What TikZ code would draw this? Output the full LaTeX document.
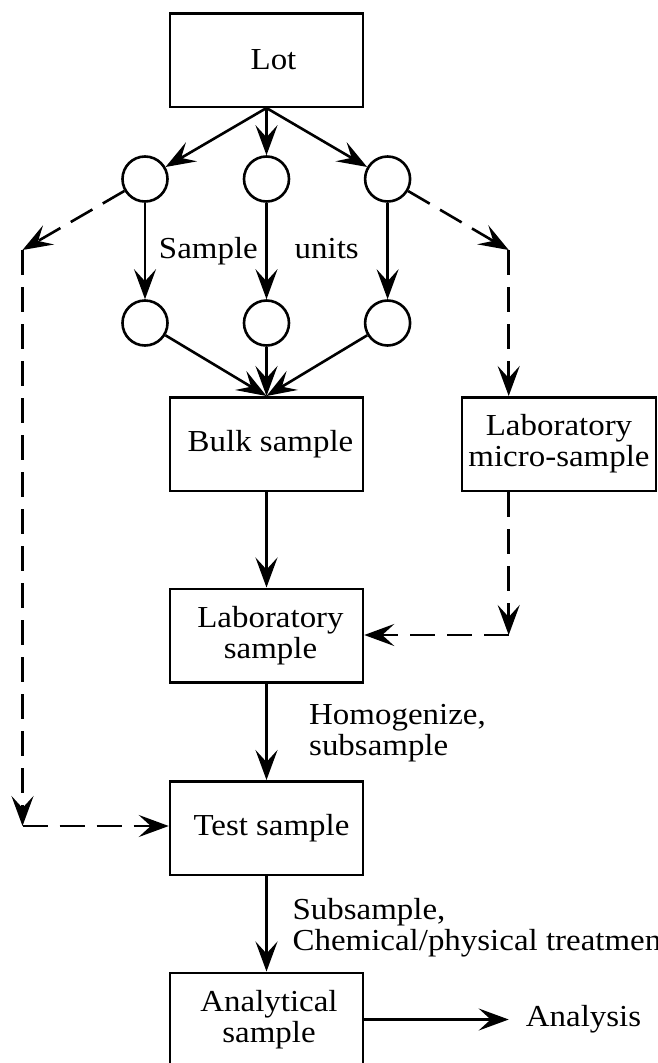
\documentclass[tikz,border=0pt]{standalone}
\usepackage{fontspec}
\setmainfont{Liberation Serif}[FakeStretch=1.08]
\usetikzlibrary{arrows.meta}
\tikzset{
  >={Stealth[length=30pt,width=22pt,inset=12pt]},
  box/.style={draw,line width=2.5pt,minimum width=193pt,minimum height=93.5pt,inner sep=0pt,align=center},
  unit/.style={draw,circle,line width=2.6pt,minimum size=45pt,inner sep=0pt},
  lbl/.style={inner sep=0pt,align=left},
  arr/.style={line width=2.6pt,->},
  dsh/.style={line width=2.6pt,->,dash pattern=on 25pt off 12pt}
}
\begin{document}
\begin{tikzpicture}[x=1pt,y=-1pt,
  every node/.style={font=\fontsize{30.5}{31}\selectfont}]
\useasboundingbox (0,0) rectangle (658,1063);
% boxes
\node[box] (lot) at (266.5,60) {\hspace*{14pt}Lot};
\node[unit] (c1) at (145,179) {};
\node[unit] (c2) at (266.5,179) {};
\node[unit] (c3) at (387.6,179) {};
\node[unit] (d1) at (145,323) {};
\node[unit] (d2) at (266.5,323) {};
\node[unit] (d3) at (387.6,323) {};
\node[box] (bulk) at (266.5,444) {\hspace*{8pt}Bulk sample};
\node[box,minimum width=194pt] (micro) at (559,444) {Laboratory\\micro-sample};
\node[box] (lab) at (266.5,635.5) {\hspace*{8pt}Laboratory\\\hspace*{8pt}sample};
\node[box] (test) at (266.5,828) {\hspace*{10pt}Test sample};
\node[box] (ana) at (266.5,1019.5) {\hspace*{5pt}Analytical\\\hspace*{5pt}sample};
\node[lbl,anchor=west] (res) at (525.7,1019.5) {Analysis};
% labels
\node[lbl,anchor=base east] (lsample) at (258,258) {Sample};
\node[lbl,anchor=base west] (lunits) at (294.5,258) {units};
\node[lbl,anchor=base west] (lhom) at (309,755) {Homogenize,\\subsample};
\node[lbl,anchor=base west] (lsub) at (292.4,950) {Subsample,\\Chemical/physical treatment};
% coordinates
\coordinate (L1) at (22.5,250);
\coordinate (L2) at (22.5,826);
\coordinate (R1) at (508.7,250);
\coordinate (R2) at (508.7,635);
% solid arrows
\draw[arr] (lot.south) -- (c1);
\draw[arr] (lot.south) -- (c2);
\draw[arr] (lot.south) -- (c3);
\draw[arr] (c1) -- (d1);
\draw[arr] (c2) -- (d2);
\draw[arr] (c3) -- (d3);
\draw[arr] (d1) -- (bulk.north);
\draw[arr] (d2) -- (bulk.north);
\draw[arr] (d3) -- (bulk.north);
\draw[arr] (bulk) -- (lab);
\draw[arr] (lab) -- (test);
\draw[arr] (test) -- (ana);
\draw[arr,shorten >=17pt] (ana.east) -- (res.west);
% dashed arrows
\draw[dsh] (c1) -- (L1);
\draw[dsh] (L1) -- (L2);
\draw[dsh] (L2) -- (L2 -| test.west);
\draw[dsh] (c3) -- (R1);
\draw[dsh] (R1) -- (R1 |- micro.north);
\draw[dsh] (R1 |- micro.south) -- (R2);
\draw[dsh] (R2) -- (R2 -| lab.east);
\end{tikzpicture}
\end{document}
